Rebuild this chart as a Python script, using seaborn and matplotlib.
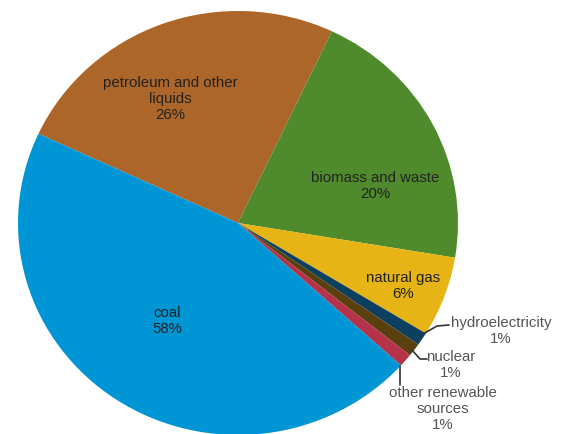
"""Pie of energy consumption by fuel, redrawn to match the reference picture."""
import matplotlib
matplotlib.use("Agg")
import matplotlib.pyplot as plt
import seaborn as sns

# slice order runs clockwise from the petroleum / coal boundary
FUELS = ["petroleum and other\nliquids", "biomass and waste", "natural gas",
         "hydroelectricity", "nuclear", "other renewable\nsources", "coal"]
# angular share of each slice as measured on the picture (percent of circle)
SHARES = [25.1, 20.6, 6.1, 1.0, 1.0, 1.0, 45.2]
# percentages printed on the labels
LABEL_PCT = ["26%", "20%", "6%", "1%", "1%", "1%", "58%"]
COLOURS = ["#ad6629", "#4f8a2c", "#e6b414", "#0d3f5e", "#5a400f", "#b53348", "#0096d6"]

# pie geometry in pixels (the picture is slightly stretched sideways)
W, H = 562, 434
CX, CY = 238, 223
RX, RY = 220, 212

sns.set_theme(style="white")
plt.rcParams["font.family"] = ["Liberation Sans", "DejaVu Sans"]


def px(x, y):
    """pixel position in the picture -> data coordinates of the unit pie"""
    return (x - CX) / RX, (CY - y) / RY


fig = plt.figure(figsize=(W / 100, H / 100), dpi=100)
ax = fig.add_axes([0, 0, 1, 1])
ax.pie(SHARES, colors=sns.color_palette(COLOURS), startangle=155.1,
       counterclock=False, wedgeprops={"linewidth": 0})
ax.set_aspect("auto")
ax.set_xlim(px(0, 0)[0], px(W, 0)[0])
ax.set_ylim(px(0, H)[1], px(0, 0)[1])
ax.axis("off")

text_kw = dict(ha="center", va="center", fontsize=10.8, color="#222222",
               linespacing=1.2)

# labels inside the large slices (pixel centres)
inside = {0: (170, 99), 1: (375, 186), 2: (403, 286), 6: (167, 321)}
for i, (x, y) in inside.items():
    ax.text(*px(x, y), f"{FUELS[i]}\n{LABEL_PCT[i]}", **text_kw)

# small slices: label outside with a thin leader line
outside = {
    3: ((501, 331), [(423, 334), (437, 326), (449, 325)]),
    4: ((451, 365), [(412, 350), (420, 359), (427, 359)]),
    5: ((443, 409), [(400, 366), (400, 385)]),
}
grey_kw = dict(text_kw, color="#555555")
for i, ((x, y), line) in outside.items():
    ax.text(*px(x, y), f"{FUELS[i]}\n{LABEL_PCT[i]}", **grey_kw)
    xs, ys = zip(*[px(a, b) for a, b in line])
    ax.plot(xs, ys, color="#333333", lw=1.2, solid_capstyle="round")

fig.savefig("out.png", dpi=100)
